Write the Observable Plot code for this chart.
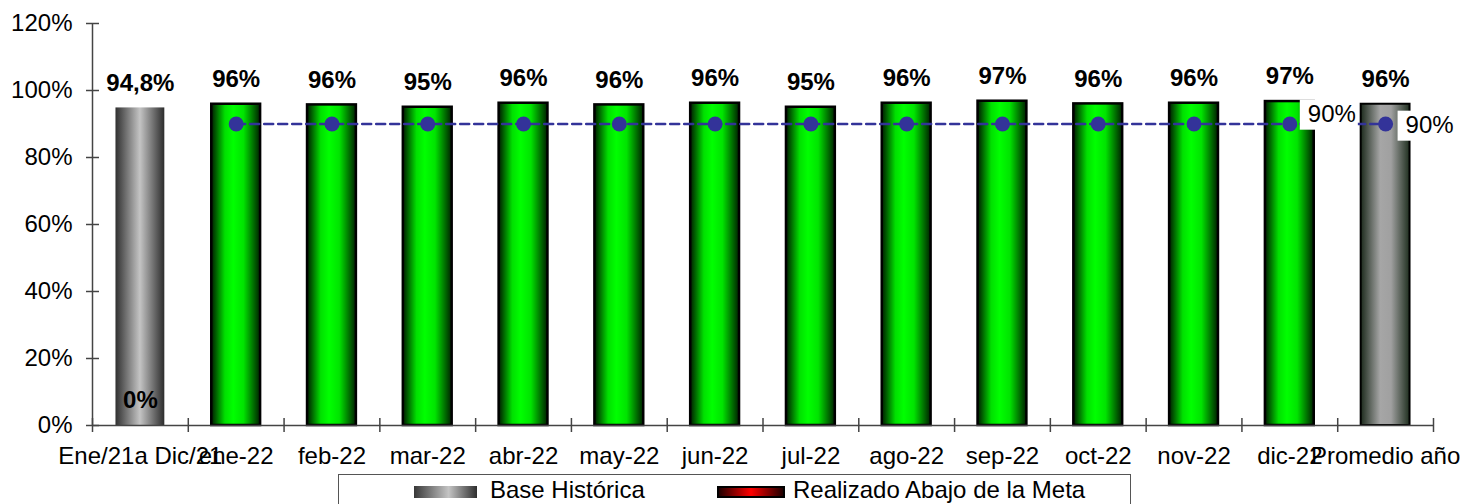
<!DOCTYPE html>
<html>
<head>
<meta charset="utf-8">
<script src="https://cdn.jsdelivr.net/npm/d3@7"></script>
<script src="https://cdn.jsdelivr.net/npm/@observablehq/plot@0.6"></script>
<style>
  body { margin: 0; background: #fff; font-family: "Liberation Sans", Arial, sans-serif; }
  #wrap { position: relative; width: 1461px; height: 504px; overflow: hidden; background: #fff; }
  #chart svg { display: block; }
  #legend { position: absolute; left: 338px; top: 474px; width: 793px; height: 40px; border: 1px solid #555; box-sizing: border-box; background: #fff; }
  #legend .sw { position: absolute; top: 11px; height: 12px; box-sizing: border-box; }
  #legend .lt { position: absolute; top: 3px; font-size: 24px; line-height: 24px; color: #000; white-space: nowrap; }
</style>
</head>
<body>
<div id="wrap">
  <div id="chart"></div>
  <div id="legend"></div>
</div>
<script>
// ---- data ----
const categories = ["Ene/21a Dic/21", "ene-22", "feb-22", "mar-22", "abr-22", "may-22", "jun-22",
  "jul-22", "ago-22", "sep-22", "oct-22", "nov-22", "dic-22", "Promedio año"];
const kinds = ["base", "real", "real", "real", "real", "real", "real",
  "real", "real", "real", "real", "real", "real", "prom"];
const values = [94.8, 95.9, 95.7, 95.0, 96.2, 95.7, 96.2, 95.0, 96.2, 96.8, 96.0, 96.2, 96.7, 95.9];
const valueLabels = ["94,8%", "96%", "96%", "95%", "96%", "96%", "96%", "95%", "96%", "97%", "96%", "96%", "97%", "96%"];
const metaValues = [null, 90, 90, 90, 90, 90, 90, 90, 90, 90, 90, 90, 90, 90];
const belowValues = [0, null, null, null, null, null, null, null, null, null, null, null, null, null];
const yTicks = [0, 20, 40, 60, 80, 100, 120];
const legendLabels = ["Base Histórica", "Realizado Abajo de la Meta"];

// ---- layout ----
const W = 1461, H = 474, ML = 92, MR = 28, MT = 23, MB = 49;
const step = (W - ML - MR) / categories.length;
const font = '"Liberation Sans", Arial, sans-serif';

const data = categories.map((c, i) => ({
  cat: c, v: values[i], lab: valueLabels[i], kind: kinds[i], meta: metaValues[i], below: belowValues[i]
}));
const metaData = data.filter(d => d.meta != null);
const belowData = data.filter(d => d.below != null);
const n = categories.length;

const svg = Plot.plot({
  width: W, height: H,
  marginLeft: ML, marginRight: MR, marginTop: MT, marginBottom: MB,
  style: { fontFamily: font, fontSize: "24px", color: "#000", background: "#fff", overflow: "visible" },
  x: { domain: categories, paddingInner: 0.49, paddingOuter: 0.245, round: false, label: null },
  y: { domain: [0, 120], label: null },
  marks: [
    Plot.barY(data.filter(d => d.kind === "base"), { x: "cat", y: "v", fill: "url(#gBase)" }),
    Plot.barY(data.filter(d => d.kind === "real"), { x: "cat", y: "v", fill: "url(#gGreen)", stroke: "#000", strokeWidth: 2.5 }),
    Plot.barY(data.filter(d => d.kind === "prom"), { x: "cat", y: "v", fill: "url(#gProm)", stroke: "#000", strokeWidth: 2 }),
    // axes lines
    Plot.ruleY([0], { stroke: "#444", strokeWidth: 1.5 }),
    Plot.ruleX([categories[0]], { x: d => d, dx: -step / 2, stroke: "#444", strokeWidth: 1.5 }),
    // x boundary ticks
    Plot.ruleX(categories, { x: d => d, dx: -step / 2, y1: 0, y2: 0, insetTop: -7, insetBottom: -7, stroke: "#444", strokeWidth: 1.5 }),
    Plot.ruleX([categories[n - 1]], { x: d => d, dx: step / 2, y1: 0, y2: 0, insetTop: -7, insetBottom: -7, stroke: "#444", strokeWidth: 1.5 }),
    Plot.axisX({ tickSize: 0, tickPadding: 21, fontSize: 24, label: null }),
    Plot.axisY({ ticks: yTicks, tickSize: 0, tickPadding: 20, tickFormat: d => d + "%", fontSize: 24, label: null }),
    Plot.axisY({ ticks: yTicks, tickSize: 13, dx: 7, tickFormat: () => "", stroke: "#444", strokeWidth: 1.5, label: null }),
    // value labels
    Plot.text(data, { x: "cat", y: "v", text: "lab", dy: -25, fontWeight: "bold", fontSize: 24 }),
    Plot.text(belowData, { x: "cat", y: "below", text: d => d.below + "%", dy: -25, fontWeight: "bold", fontSize: 24 }),
    // meta line
    Plot.line(metaData, { x: "cat", y: "meta", stroke: "#333399", strokeWidth: 2.5, strokeDasharray: "9,5" }),
    Plot.dot(metaData, { x: "cat", y: "meta", r: 7.5, fill: "#333399", stroke: "none" }),
    Plot.text(metaData.filter(d => d.cat === categories[n - 2]), { x: "cat", y: "meta", text: d => d.meta + "%", dx: 42, dy: -10, fontSize: 24, className: "metaLab" }),
    Plot.text(metaData.filter(d => d.cat === categories[n - 1]), { x: "cat", y: "meta", text: d => d.meta + "%", dx: 44, dy: 1, fontSize: 24, className: "metaLab" })
  ]
});

document.getElementById("chart").appendChild(svg);

// gradients
const defs = d3.select(svg).insert("defs", ":first-child");
function grad(id, stops) {
  const g = defs.append("linearGradient").attr("id", id).attr("x1", 0).attr("x2", 1).attr("y1", 0).attr("y2", 0);
  stops.forEach(([o, c]) => g.append("stop").attr("offset", o).attr("stop-color", c));
}
grad("gGreen", [[0, "#001a00"], [0.28, "#00e000"], [0.45, "#00ff00"], [0.66, "#00e400"], [1, "#002000"]]);
grad("gBase", [[0, "#303030"], [0.5, "#c4c4c4"], [1, "#2c2c2c"]]);
grad("gProm", [[0, "#1c2a1c"], [0.4, "#a6a6a6"], [0.62, "#a0a0a0"], [1, "#1f2f1f"]]);

// white boxes behind meta labels
d3.select(svg).selectAll("g.metaLab text").each(function () {
  const b = this.getBBox();
  const r = document.createElementNS("http://www.w3.org/2000/svg", "rect");
  r.setAttribute("x", b.x - 8);
  r.setAttribute("y", b.y);
  r.setAttribute("width", b.width + 10);
  r.setAttribute("height", b.height + 3);
  r.setAttribute("fill", "#fff");
  const tr = this.getAttribute("transform");
  if (tr) r.setAttribute("transform", tr);
  this.parentNode.insertBefore(r, this);
});

// legend
const legend = document.getElementById("legend");
const swatchStyles = [
  { left: 75, width: 63, bg: "linear-gradient(to right,#383838,#c4c4c4 55%,#2e2e2e)", border: "none" },
  { left: 378, width: 68, bg: "linear-gradient(to right,#200000,#ff0000 50%,#200000)", border: "2px solid #000" }
];
const textLefts = [151, 454];
legendLabels.forEach((lab, i) => {
  const s = document.createElement("span");
  s.className = "sw";
  s.style.left = swatchStyles[i].left + "px";
  s.style.width = swatchStyles[i].width + "px";
  s.style.background = swatchStyles[i].bg;
  s.style.border = swatchStyles[i].border;
  legend.appendChild(s);
  const t = document.createElement("span");
  t.className = "lt";
  t.style.left = textLefts[i] + "px";
  t.textContent = lab;
  legend.appendChild(t);
});
</script>
</body>
</html>
